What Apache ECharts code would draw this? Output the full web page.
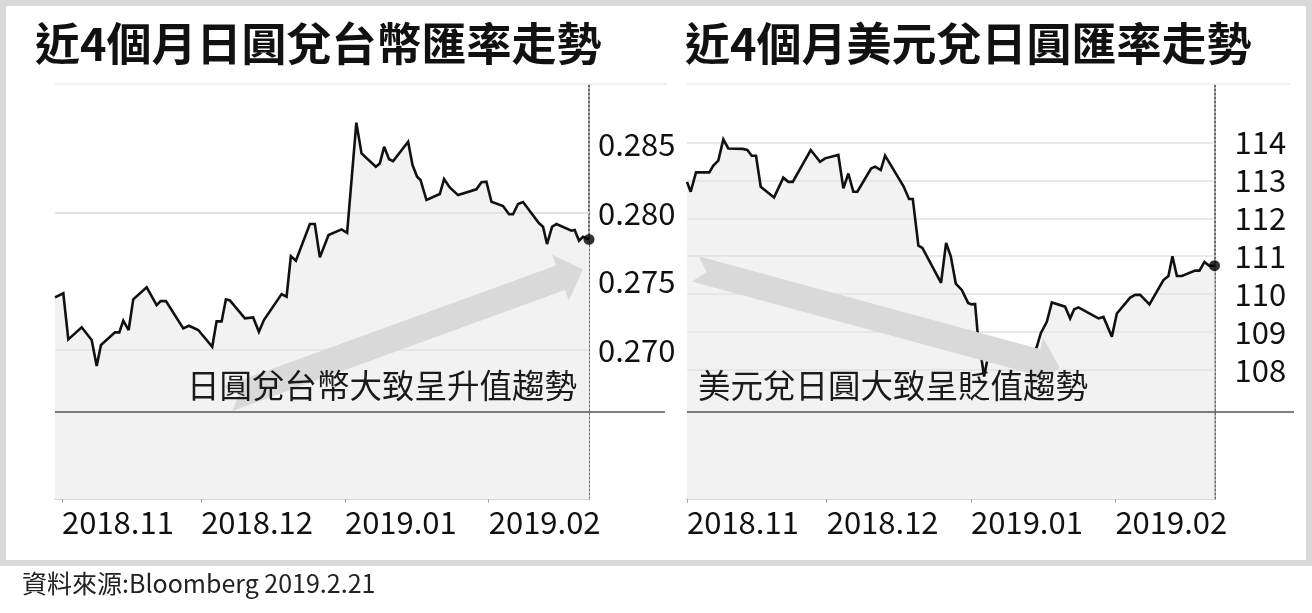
<!DOCTYPE html>
<html><head><meta charset="utf-8">
<script src="https://cdn.jsdelivr.net/npm/echarts@6/dist/echarts.min.js"></script>
<style>html,body{margin:0;padding:0;background:#fff;} #c{width:1312px;height:613px;}</style>
</head><body><div id="c"></div>
<script>
// ---- data (x = days since 2018-11-01) ----
const xTickDays = [0, 30, 61, 92];
const xTickLabels = ['2018.11', '2018.12', '2019.01', '2019.02'];

const jpyTwdDays = [-1.51, 0.28, 1.36, 4.24, 6.40, 7.48, 8.40, 11.42, 12.35, 13.21, 14.37, 15.36, 18.25, 20.41, 21.27, 22.41, 26.14, 27.36, 29.37, 32.39, 33.33, 34.41, 35.34, 36.20, 39.43, 41.22, 42.45, 43.53, 47.34, 48.42, 49.34, 50.42, 53.44, 54.51, 55.59, 57.47, 60.27, 61.47, 63.46, 64.58, 67.66, 68.52, 69.45, 70.52, 71.39, 74.62, 75.57, 76.56, 77.29, 78.58, 81.45, 82.37, 83.60, 85.39, 89.35, 90.43, 91.50, 92.59, 95.09, 96.38, 97.24, 98.32, 99.40, 102.85, 103.71, 104.57, 105.65, 106.59, 109.83, 110.54, 111.46, 112.33, 113.62];
const jpyTwdValues = [0.27384, 0.27414, 0.27078, 0.27166, 0.27073, 0.26883, 0.27037, 0.27129, 0.27129, 0.27214, 0.27146, 0.27370, 0.27457, 0.27328, 0.27357, 0.27357, 0.27158, 0.27177, 0.27146, 0.27024, 0.27209, 0.27209, 0.27370, 0.27362, 0.27231, 0.27238, 0.27133, 0.27219, 0.27408, 0.27389, 0.27685, 0.27651, 0.27919, 0.27919, 0.27676, 0.27839, 0.27880, 0.27855, 0.28658, 0.28434, 0.28337, 0.28361, 0.28482, 0.28391, 0.28378, 0.28519, 0.28349, 0.28264, 0.28240, 0.28094, 0.28138, 0.28247, 0.28186, 0.28130, 0.28172, 0.28223, 0.28227, 0.28081, 0.28050, 0.27990, 0.27990, 0.28065, 0.28079, 0.27924, 0.27899, 0.27773, 0.27899, 0.27919, 0.27870, 0.27875, 0.27797, 0.27826, 0.27807];
const jpyTwdTicks = [0.270, 0.275, 0.280, 0.285];

const usdJpyDays = [0, 0.79, 1.93, 4.79, 5.65, 6.72, 7.80, 8.87, 11.97, 12.95, 13.90, 14.82, 15.83, 18.69, 20.69, 21.76, 22.71, 26.57, 28.57, 29.65, 32.50, 33.58, 34.65, 35.72, 36.58, 39.53, 40.39, 41.61, 42.54, 46.47, 47.69, 48.49, 49.69, 50.55, 54.56, 55.64, 56.65, 57.72, 59.01, 60.37, 61.12, 61.87, 62.36, 63.80, 64.45, 66.0, 67.5, 69.0, 70.5, 72.0, 73.5, 75.12, 75.98, 77.27, 78.35, 81.20, 82.28, 83.14, 84.06, 88.36, 89.43, 91.24, 92.31, 95.17, 96.24, 97.32, 99.31, 102.32, 103.39, 104.25, 105.20, 106.27, 109.13, 110.05, 111.13, 112.14, 113.28];
const usdJpyValues = [112.96, 112.70, 113.21, 113.21, 113.39, 113.52, 114.08, 113.84, 113.83, 113.80, 113.65, 113.65, 112.83, 112.55, 113.07, 112.96, 112.96, 113.80, 113.49, 113.58, 113.67, 112.79, 113.18, 112.70, 112.70, 113.31, 113.36, 113.27, 113.65, 112.85, 112.51, 112.51, 111.28, 111.22, 110.30, 111.35, 111.00, 110.28, 110.11, 109.77, 109.73, 109.74, 109.05, 107.83, 108.24, 108.60, 108.65, 108.20, 108.40, 108.50, 108.20, 108.61, 108.97, 109.27, 109.78, 109.67, 109.36, 109.60, 109.65, 109.36, 109.40, 108.88, 109.49, 109.91, 109.98, 109.98, 109.73, 110.37, 110.48, 111.00, 110.48, 110.48, 110.62, 110.62, 110.85, 110.75, 110.75];
const usdJpyTicks = [108, 109, 110, 111, 112, 113, 114];

const titles = ['近4個月日圓兌台幣匯率走勢', '近4個月美元兌日圓匯率走勢'];
const notes = ['日圓兌台幣大致呈升值趨勢', '美元兌日圓大致呈貶值趨勢'];
const sourceText = '資料來源:Bloomberg 2019.2.21';

// ---- chart ----
const FONT = '"Noto Sans CJK TC", "Noto Sans CJK SC", sans-serif';
const chart = echarts.init(document.getElementById('c'));

function pairs(d, v) { return d.map((x, i) => [x, v[i]]); }
function nearestLabel(v) {
  let best = 0;
  xTickDays.forEach((t, i) => { if (Math.abs(t - v) < Math.abs(xTickDays[best] - v)) best = i; });
  return xTickLabels[best];
}
function xAxisCfg(gi, min, max) {
  return {
    type: 'value', gridIndex: gi, min: min, max: max,
    axisLine: { show: true, onZero: false, lineStyle: { color: '#c8c8c8', width: 1.5 } },
    axisTick: { show: true, customValues: xTickDays, length: 4, lineStyle: { color: '#aaa', width: 1 } },
    axisLabel: { customValues: xTickDays, formatter: nearestLabel, align: 'left', margin: 8,
      fontSize: 31, color: '#111', fontFamily: FONT },
    splitLine: { show: false }
  };
}
function yAxisCfg(gi, min, max, ticks, margin, fmt, pad) {
  return {
    type: 'value', gridIndex: gi, position: 'right', min: min, max: max,
    axisLine: { show: true, onZero: false, lineStyle: { color: '#444', width: 1.6, type: [2, 2] } },
    axisTick: { show: false },
    splitLine: { show: false },
    axisLabel: { customValues: ticks, margin: margin, fontSize: 31, color: '#111', fontFamily: FONT,
      align: 'left', formatter: fmt, padding: pad }
  };
}
function areaSeries(gi, data, ticks) {
  return {
    type: 'line', xAxisIndex: gi, yAxisIndex: gi, data: data, z: 1, symbol: 'none', silent: true,
    lineStyle: { width: 0 }, areaStyle: { color: '#f2f2f2', opacity: 1, origin: 'start' },
    markLine: { silent: true, z: 2, symbol: 'none', label: { show: false }, animation: false,
      lineStyle: { color: '#e2e2e2', width: 1.5, type: 'solid' },
      data: ticks.map(t => ({ yAxis: t })) }
  };
}
function lineSeries(gi, data) {
  return {
    type: 'line', xAxisIndex: gi, yAxisIndex: gi, data: data, z: 3, symbol: 'none', silent: true,
    lineStyle: { color: '#111', width: 2.6, join: 'miter', miterLimit: 3 }
  };
}
function dotSeries(gi, days, vals) {
  const n = days.length - 1;
  return { type: 'scatter', xAxisIndex: gi, yAxisIndex: gi, z: 4, silent: true,
    data: [[days[n], vals[n]]], symbolSize: 11, itemStyle: { color: '#000' } };
}
function arrowShape(tipX, tipY, angleDeg) {
  const L = 378, sh = 13, hh = 24.5, hl = 24, notch = 12;
  const a = angleDeg * Math.PI / 180, ux = Math.cos(a), uy = Math.sin(a), px = -uy, py = ux;
  const base = [tipX - hl * ux, tipY - hl * uy], tail = [tipX - L * ux, tipY - L * uy];
  const P = (c, s, t) => [c[0] + s * px + t * ux, c[1] + s * py + t * uy];
  return [[tipX, tipY], P(base, hh, 0), P(base, sh, 0), P(tail, sh, 0), P(tail, 0, notch),
    P(tail, -sh, 0), P(base, -sh, 0), P(base, -hh, 0)];
}
function hline(x1, x2, y, color, w, z) {
  return { type: 'line', z: z, silent: true, shape: { x1: x1, y1: y, x2: x2, y2: y },
    style: { stroke: color, lineWidth: w } };
}

const jpyData = pairs(jpyTwdDays, jpyTwdValues);
const usdData = pairs(usdJpyDays, usdJpyValues);

chart.setOption({
  animation: false,
  backgroundColor: '#fff',
  title: [
    { text: titles[0], left: 35, top: 21, padding: 0,
      textStyle: { fontSize: 45, fontWeight: 'bold', fontFamily: FONT, color: '#111' } },
    { text: titles[1], left: 685, top: 21, padding: 0,
      textStyle: { fontSize: 45, fontWeight: 'bold', fontFamily: FONT, color: '#111' } }
  ],
  grid: [
    { left: 55, top: 84, width: 534, height: 415, outerBoundsMode: 'none' },
    { left: 687, top: 84, width: 527.5, height: 415, outerBoundsMode: 'none' }
  ],
  xAxis: [xAxisCfg(0, -1.51, 113.62), xAxisCfg(1, 0, 113.28)],
  yAxis: [
    yAxisCfg(0, 0.25914, 0.28940, jpyTwdTicks, 9, v => v.toFixed(3), [6, 0, 0, 0]),
    yAxisCfg(1, 104.60, 115.54, usdJpyTicks, 20, v => String(Math.round(v)), 0)
  ],
  series: [
    areaSeries(0, jpyData, jpyTwdTicks), lineSeries(0, jpyData), dotSeries(0, jpyTwdDays, jpyTwdValues),
    areaSeries(1, usdData, usdJpyTicks), lineSeries(1, usdData), dotSeries(1, usdJpyDays, usdJpyValues)
  ],
  graphic: [
    { type: 'rect', z: 0, silent: true, shape: { x: 3, y: 3, width: 1306, height: 560 },
      style: { fill: null, stroke: '#d9d9d9', lineWidth: 6 } },
    hline(55, 667, 84, '#ececec', 1.5, 10),
    hline(687, 1290, 84, '#ececec', 1.5, 10),
    hline(55, 665, 412, '#555', 1.5, 10),
    hline(687, 1294, 412, '#555', 1.5, 10),
    { type: 'polygon', z: 50, silent: true, shape: { points: arrowShape(583, 269.5, -20) },
      style: { fill: '#d9d9d9' } },
    { type: 'polygon', z: 50, silent: true, shape: { points: arrowShape(1060, 368, 15.2) },
      style: { fill: '#d9d9d9' } },
    { type: 'text', z: 60, silent: true, x: 187, y: 386,
      style: { text: notes[0], fontSize: 32.5, fontFamily: FONT, fill: '#1a1a1a', verticalAlign: 'middle' } },
    { type: 'text', z: 60, silent: true, x: 698, y: 386,
      style: { text: notes[1], fontSize: 32.5, fontFamily: FONT, fill: '#1a1a1a', verticalAlign: 'middle' } },
    { type: 'text', z: 60, silent: true, x: 22, y: 583,
      style: { text: sourceText, fontSize: 25, fontFamily: FONT, fill: '#222', verticalAlign: 'middle' } }
  ]
});
</script></body></html>
